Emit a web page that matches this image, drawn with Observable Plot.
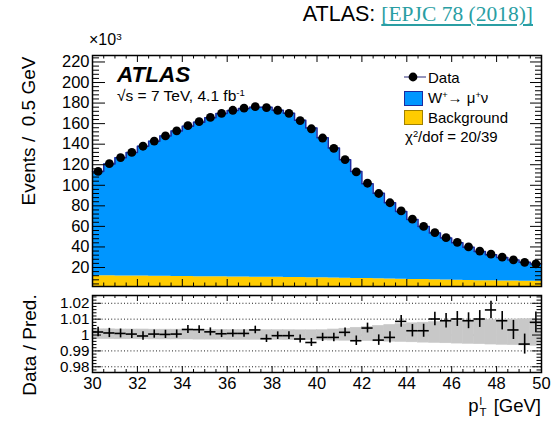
<!DOCTYPE html>
<html><head><meta charset="utf-8">
<script src="https://cdn.jsdelivr.net/npm/d3@7"></script>
<script src="https://cdn.jsdelivr.net/npm/@observablehq/plot@0.6"></script>
<style>
body{margin:0;background:#fff;font-family:"Liberation Sans",Arial,sans-serif;color:#000;}
#wrap{position:relative;width:551px;height:424px;overflow:hidden;background:#fff;}
.abs{position:absolute;white-space:nowrap;line-height:1;}
.abs sup{font-size:0.62em;vertical-align:0.55em;line-height:0;}
svg{position:absolute;left:0;}
</style></head><body><div id="wrap"></div>
<script>
// ---- data (events in thousands per 0.5 GeV bin, pT from 30 to 50 GeV) ----
const binLow = d3.range(30, 50, 0.5);
const dataK = [113.5,121,127,132,138,143,148,153,158,162,166,170,173,175,176.5,175.5,173,170,163,155,
  146,136,125,113,102,92,83,75,67,60,54,49,44.5,40,36,33,30,27.5,25,23.5];
const signalK = [101.3,108.9,115.1,120.2,126.5,131.4,136.5,141.6,146.3,150.3,154.7,159.0,162.0,164.1,165.3,165.4,162.7,159.8,153.2,145.6,
  136.2,126.4,115.2,104.0,92.4,83.3,74.3,65.8,58.4,51.6,45.5,40.8,36.5,32.2,28.4,25.5,22.8,20.6,18.4,16.7];
const bkgK = [12.0,11.9,11.8,11.7,11.6,11.5,11.4,11.3,11.2,11.1,11.0,10.9,10.8,10.7,10.6,10.5,10.4,10.3,10.2,10.1,
  10.0,9.8,9.6,9.4,9.2,9.0,8.8,8.6,8.4,8.2,8.0,7.8,7.6,7.4,7.2,7.0,6.9,6.8,6.7,6.6];
const ratio = [1.0019,1.0013,1.0010,1.0006,0.9994,1.0006,1.0004,1.0006,1.0035,1.0034,1.0020,1.0008,1.0010,1.0010,1.0032,0.9977,0.9996,0.9996,0.9975,0.9953,
  0.9985,0.9985,1.0017,0.9964,1.0044,0.9968,0.9985,1.0086,1.0027,1.0027,1.0101,1.0090,1.0101,1.0090,1.0101,1.0158,1.0090,1.0032,0.9943,1.0080];
const ratioErr = [0.0030,0.0029,0.0028,0.0028,0.0027,0.0026,0.0026,0.0026,0.0025,0.0025,0.0025,0.0024,0.0024,0.0024,0.0024,0.0024,0.0024,0.0024,0.0025,0.0025,
  0.0026,0.0027,0.0028,0.0030,0.0031,0.0033,0.0035,0.0037,0.0039,0.0041,0.0043,0.0045,0.0047,0.0050,0.0053,0.0055,0.0058,0.0060,0.0063,0.0065];
const bandLow = [0.9974,0.9974,0.9973,0.9973,0.9973,0.9972,0.9972,0.9972,0.9972,0.9971,0.9971,0.9971,0.9970,0.9970,0.9970,0.9969,0.9969,0.9968,0.9968,0.9967,
  0.9966,0.9965,0.9964,0.9963,0.9962,0.9960,0.9958,0.9956,0.9954,0.9952,0.9950,0.9948,0.9946,0.9944,0.9942,0.9940,0.9938,0.9936,0.9934,0.9932];
const bandHigh = [1.0036,1.0036,1.0035,1.0035,1.0035,1.0034,1.0034,1.0034,1.0034,1.0033,1.0033,1.0033,1.0032,1.0032,1.0032,1.0031,1.0031,1.0031,1.0030,1.0030,
  1.0031,1.0035,1.0040,1.0046,1.0052,1.0058,1.0064,1.0069,1.0074,1.0078,1.0082,1.0085,1.0088,1.0091,1.0093,1.0095,1.0097,1.0098,1.0100,1.0101];
// tick labels
const xTicks = [30,32,34,36,38,40,42,44,46,48,50];
const mainYTicks = [20,40,60,80,100,120,140,160,180,200,220];
const ratioYTicks = [0.98,0.99,1,1.01,1.02];

// ---- build tables ----
const bins = binLow.map((lo,i)=>({lo, hi: lo+0.5, c: lo+0.25, data: dataK[i], bkg: bkgK[i], tot: bkgK[i]+signalK[i],
  r: ratio[i], e: ratioErr[i], bl: bandLow[i], bh: bandHigh[i]}));
const last = bins[bins.length-1];
const steps = [...bins.map(b=>({x:b.lo, bkg:b.bkg, tot:b.tot})), {x:last.hi, bkg:last.bkg, tot:last.tot}];

const W = 551, ML = 92, MR = 10, PW = W-ML-MR;
const near = (a,b)=>Math.abs(a-b)<1e-6;
const xMinor = d3.range(30, 50.001, 0.5).filter(v=>!xTicks.some(t=>near(t,v)));
const yMinor = d3.range(4, 226, 4).filter(v=>v%20!==0);
const rMinor = d3.range(0.978, 1.0245, 0.002).filter(v=>!ratioYTicks.some(t=>near(t,v)));

const font = {fontFamily:"Liberation Sans, Arial, sans-serif", fontSize:"16.5px", color:"#000", background:"transparent", overflow:"visible"};

// ---- main panel ----
const H1 = 250, MT1 = 14, MB1 = 5, PH1 = H1-MT1-MB1;
const main = Plot.plot({
  width: W, height: H1, marginLeft: ML, marginRight: MR, marginTop: MT1, marginBottom: MB1,
  x: {domain:[30,50], axis:null},
  y: {domain:[1.5,226.3], axis:null},
  style: font,
  marks: [
    Plot.areaY(steps, {x:"x", y1:0, y2:"bkg", curve:"step-after", fill:"#ffcc00", clip:true}),
    Plot.areaY(steps, {x:"x", y1:"bkg", y2:"tot", curve:"step-after", fill:"#0096ff"}),
    Plot.lineY(steps, {x:"x", y:"tot", curve:"step-after", stroke:"#1c2aa0", strokeWidth:1.5}),
    Plot.dot(bins, {x:"c", y:"data", r:4.4, fill:"#000", stroke:"none"}),
    Plot.ruleY(mainYTicks, {insetRight: PW-13, stroke:"#000"}),
    Plot.ruleY(mainYTicks, {insetLeft: PW-11, stroke:"#000"}),
    Plot.ruleY(yMinor, {insetRight: PW-7, stroke:"#000"}),
    Plot.ruleY(yMinor, {insetLeft: PW-6, stroke:"#000"}),
    Plot.ruleX(xTicks, {insetTop: PH1-7, stroke:"#000"}),
    Plot.ruleX(xTicks, {insetBottom: PH1-7, stroke:"#000"}),
    Plot.ruleX(xMinor, {insetTop: PH1-3.5, stroke:"#000"}),
    Plot.ruleX(xMinor, {insetBottom: PH1-3.5, stroke:"#000"}),
    Plot.axisY(mainYTicks, {tickSize:0, tickPadding:3, label:null, fontSize:16.5}),
    Plot.frame({stroke:"#000", strokeWidth:1.5})
  ]
});
main.style.top = "41px";

// ---- ratio panel ----
const H2 = 134, MT2 = 5, MB2 = 52, PH2 = H2-MT2-MB2;
const ratioPlot = Plot.plot({
  width: W, height: H2, marginLeft: ML, marginRight: MR, marginTop: MT2, marginBottom: MB2,
  x: {domain:[30,50], axis:null},
  y: {domain:[0.9764,1.0249], axis:null},
  style: font,
  marks: [
    Plot.ruleY(ratioYTicks, {stroke:"#000", strokeWidth:0.9, strokeDasharray:"1,2.2"}),
    Plot.rect(bins, {x1:"lo", x2:"hi", y1:"bl", y2:"bh", fill:"#c8c8c8", stroke:"#c8c8c8", strokeWidth:0.5}),
    Plot.ruleY(bins, {x1:"lo", x2:"hi", y:"r", stroke:"#000", strokeWidth:1.6}),
    Plot.ruleX(bins, {x:"c", y1:d=>d.r-d.e, y2:d=>d.r+d.e, stroke:"#000", strokeWidth:1.6}),
    Plot.ruleY(ratioYTicks, {insetRight: PW-9, stroke:"#000"}),
    Plot.ruleY(ratioYTicks, {insetLeft: PW-9, stroke:"#000"}),
    Plot.ruleY(rMinor, {insetRight: PW-4.5, stroke:"#000"}),
    Plot.ruleY(rMinor, {insetLeft: PW-4.5, stroke:"#000"}),
    Plot.ruleX(xTicks, {insetTop: PH2-6, stroke:"#000"}),
    Plot.ruleX(xTicks, {insetBottom: PH2-6, stroke:"#000"}),
    Plot.ruleX(xMinor, {insetTop: PH2-3, stroke:"#000"}),
    Plot.ruleX(xMinor, {insetBottom: PH2-3, stroke:"#000"}),
    Plot.axisY(ratioYTicks, {tickSize:0, tickPadding:3, label:null, fontSize:15.2, tickFormat:d=>near(d,1)?"1":d.toFixed(2)}),
    Plot.axisX(xTicks, {tickSize:0, tickPadding:5, label:null, fontSize:16.5}),
    Plot.frame({stroke:"#000", strokeWidth:1.5})
  ]
});
ratioPlot.style.top = "290px";

const wrap = document.getElementById("wrap");
wrap.appendChild(main);
wrap.appendChild(ratioPlot);

// ---- text overlays ----
function add(html, css){ const d=document.createElement("div"); d.className="abs"; d.innerHTML=html; Object.assign(d.style, css); wrap.appendChild(d); return d; }
add('ATLAS: <span style="font-family:\'Liberation Serif\',\'DejaVu Serif\',serif;color:#2a9ea3;text-decoration:underline;text-underline-offset:3px;">[EPJC 78 (2018)]</span>',
  {right:"18px", top:"4px", fontSize:"21.5px"});
add('×10<sup>3</sup>', {left:"89px", top:"32px", fontSize:"16px"});
add('ATLAS', {left:"117px", top:"64px", fontSize:"22.5px", fontWeight:"bold", fontStyle:"italic"});
add('√s = 7 TeV, 4.1 fb<sup>-1</sup>', {left:"117px", top:"88px", fontSize:"15.5px"});
// legend
add('<svg width="24" height="12" style="position:static;display:block"><line x1="1" x2="23" y1="6" y2="6" stroke="#2a2a7a" stroke-width="1"/><circle cx="10" cy="6" r="4.4" fill="#000"/></svg>', {left:"403px", top:"71px"});
add('Data', {left:"428px", top:"70px", fontSize:"15px"});
add('', {left:"404px", top:"91px", width:"17px", height:"13px", background:"#0096ff", border:"1px solid #1c2aa0"});
add('W<sup>+</sup>→ μ<sup>+</sup>ν', {left:"428px", top:"90px", fontSize:"15px"});
add('', {left:"404px", top:"110px", width:"17px", height:"13px", background:"#ffcc00", border:"1px solid #a08000"});
add('Background', {left:"428px", top:"110px", fontSize:"15px"});
add('χ<sup>2</sup>/dof = 20/39', {left:"405px", top:"129px", fontSize:"15px"});
// axis titles
add('Events /  0.5 GeV', {left:"28px", top:"131px", fontSize:"19px", transform:"translate(-50%,-50%) rotate(-90deg)", whiteSpace:"pre"});
add('Data / Pred.', {left:"29px", top:"345px", fontSize:"19px", transform:"translate(-50%,-50%) rotate(-90deg)"});
add('p<span style="display:inline-block;vertical-align:-0.3em;font-size:0.62em;line-height:0.95;text-align:left;margin:0 2px 0 1px;">l<br>T</span> [GeV]',
  {right:"10px", top:"396px", fontSize:"18.5px"});
</script></body></html>
